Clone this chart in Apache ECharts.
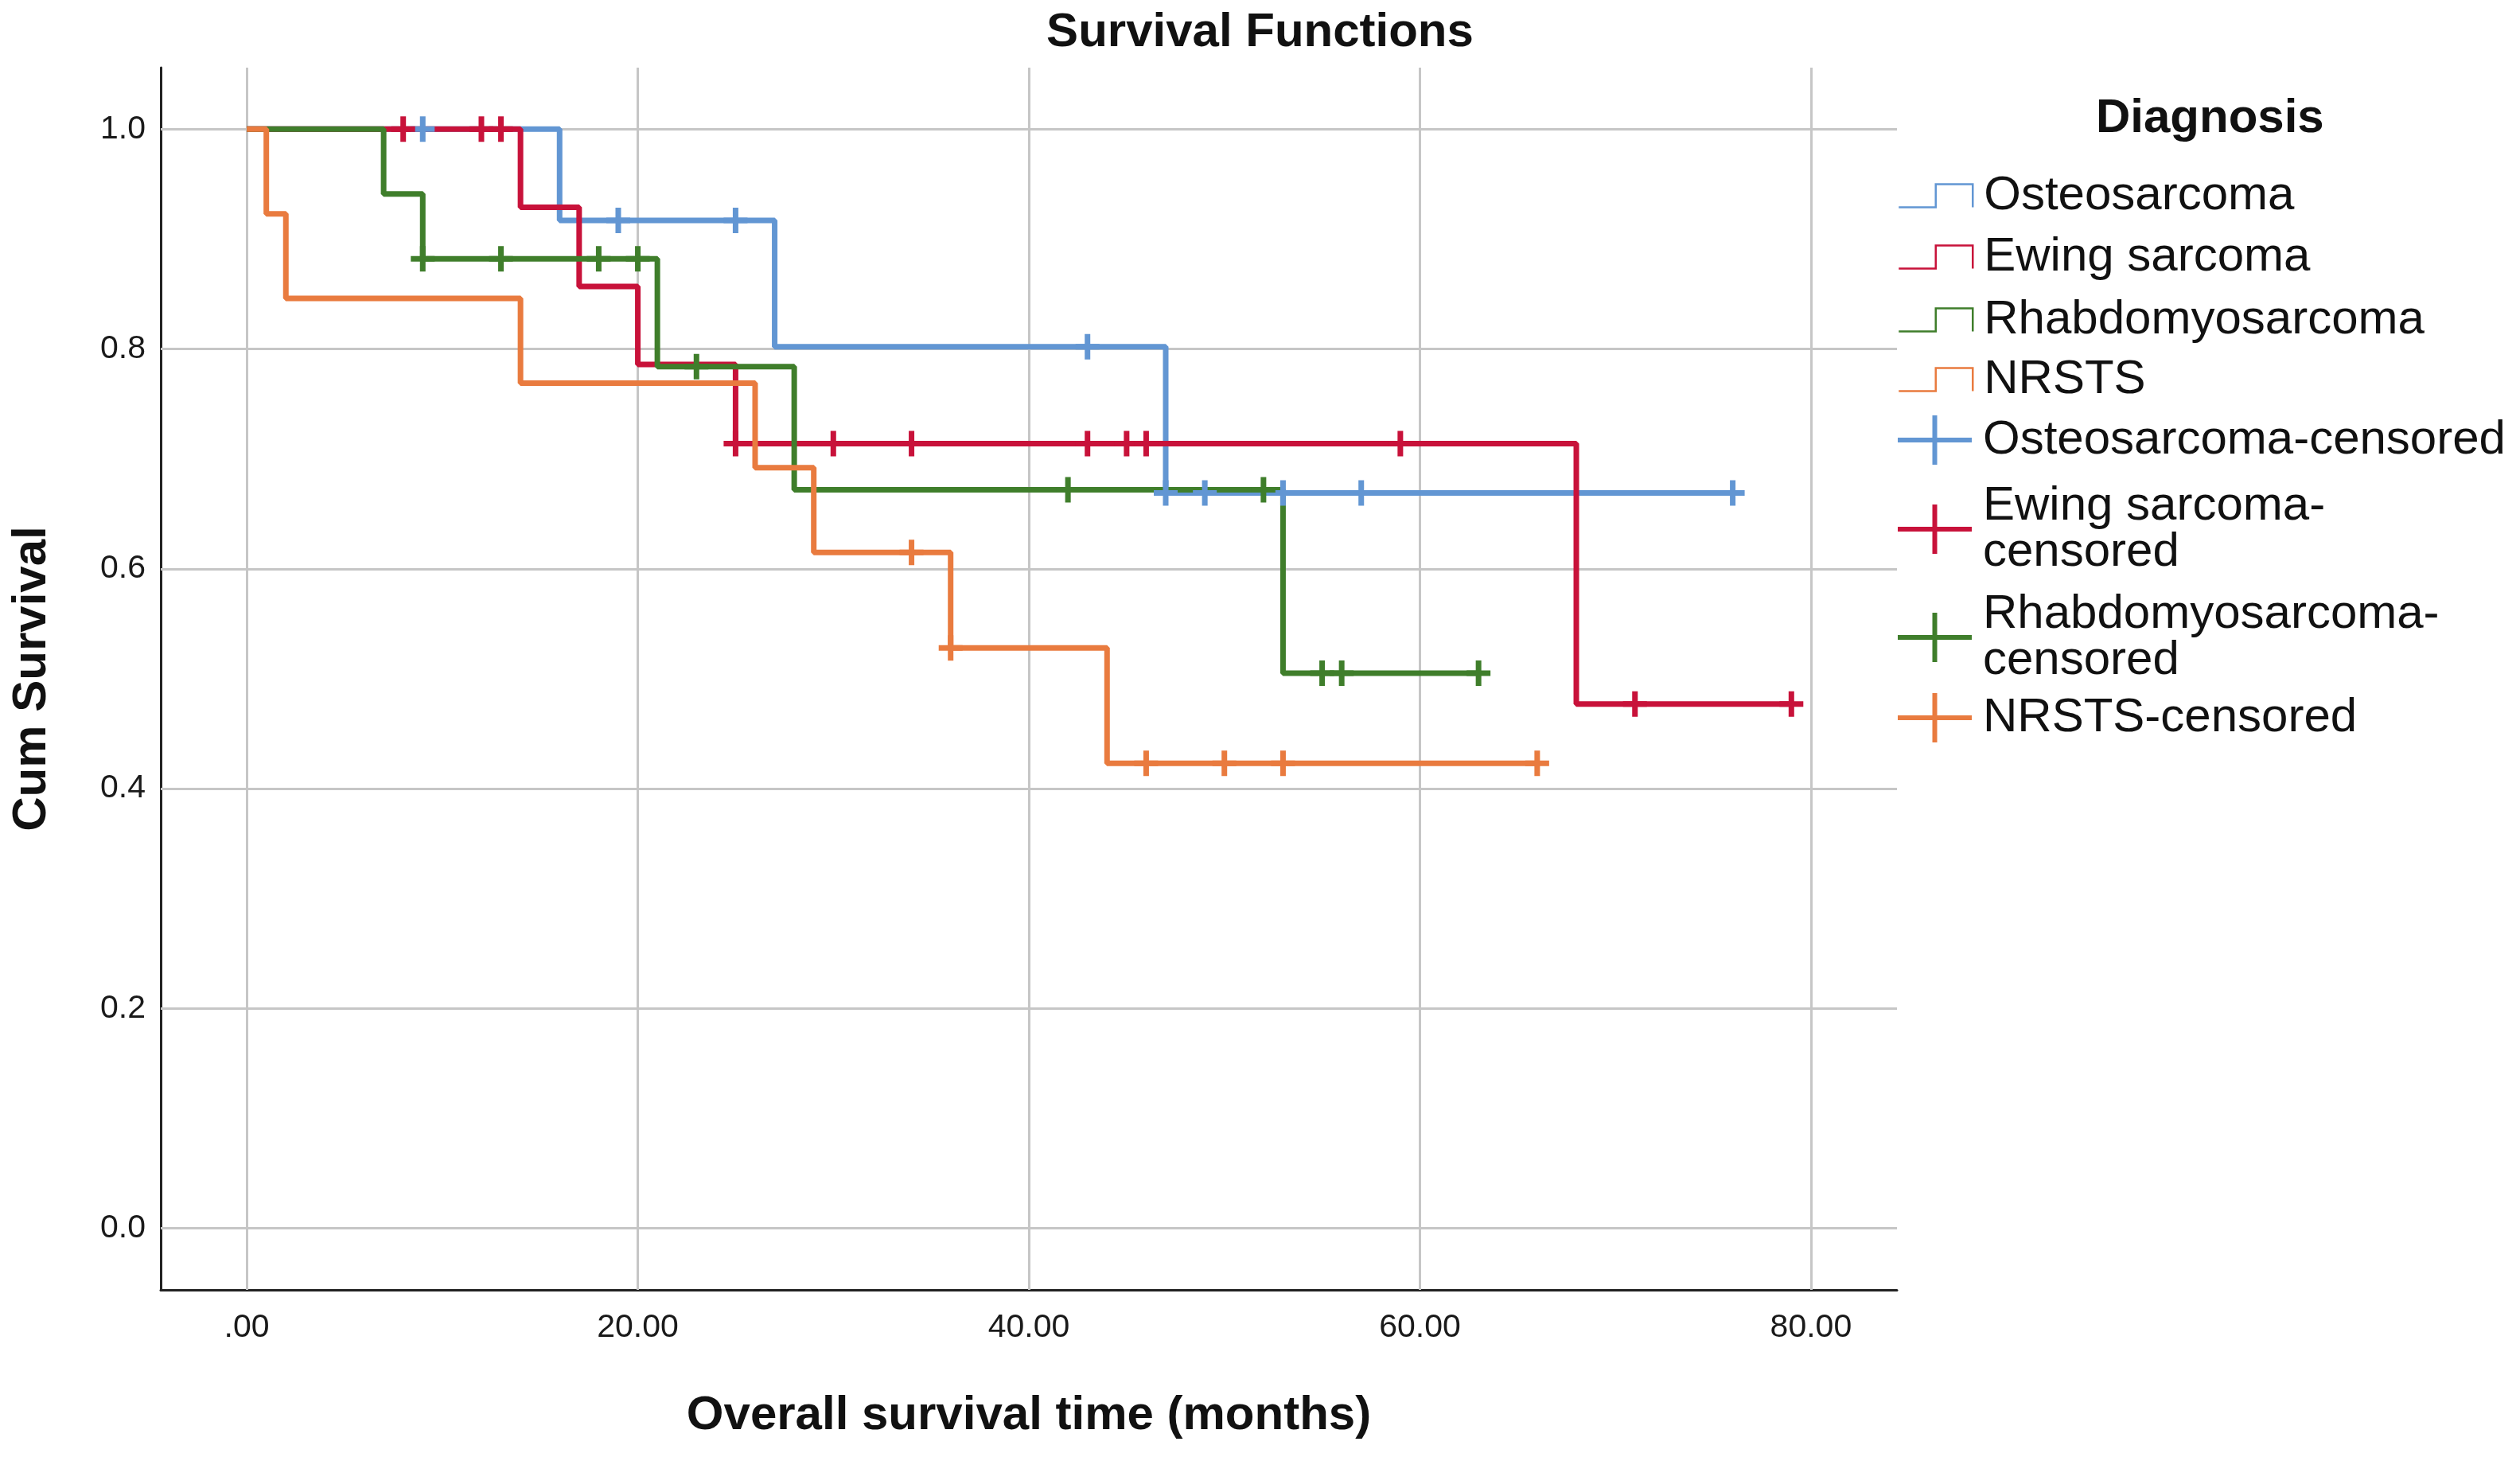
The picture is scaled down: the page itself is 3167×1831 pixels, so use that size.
<!DOCTYPE html>
<html><head><meta charset="utf-8">
<script src="https://cdn.jsdelivr.net/npm/echarts@6/dist/echarts.min.js"></script>
<style>html,body{margin:0;padding:0;background:#fff}#c{width:3167px;height:1831px}</style>
</head><body><div id="c"></div>
<script>
// ---- data ----
const groups = ['Osteosarcoma', 'Ewing sarcoma', 'Rhabdomyosarcoma', 'NRSTS'];
const censoredNames = ['Osteosarcoma-censored', 'Ewing sarcoma-censored', 'Rhabdomyosarcoma-censored', 'NRSTS-censored'];

const osteoTimes = [0, 16, 27, 47, 76];
const osteoSurv  = [1.0, 0.917, 0.802, 0.669, 0.669];
const osteoCensTimes = [9, 19, 25, 43, 47, 49, 53, 57, 76];
const osteoCensSurv  = [1.0, 0.917, 0.917, 0.802, 0.669, 0.669, 0.669, 0.669, 0.669];

const ewingTimes = [0, 14, 17, 20, 25, 68, 79];
const ewingSurv  = [1.0, 0.929, 0.857, 0.786, 0.714, 0.477, 0.477];
const ewingCensTimes = [8, 12, 13, 25, 30, 34, 43, 45, 46, 59, 71, 79];
const ewingCensSurv  = [1.0, 1.0, 1.0, 0.714, 0.714, 0.714, 0.714, 0.714, 0.714, 0.714, 0.477, 0.477];

const rhabdoTimes = [0, 7, 9, 21, 28, 53, 63];
const rhabdoSurv  = [1.0, 0.941, 0.882, 0.784, 0.672, 0.505, 0.505];
const rhabdoCensTimes = [9, 13, 18, 20, 23, 42, 52, 55, 56, 63];
const rhabdoCensSurv  = [0.882, 0.882, 0.882, 0.882, 0.784, 0.672, 0.672, 0.505, 0.505, 0.505];

const nrstsTimes = [0, 1, 2, 14, 26, 29, 36, 44, 66];
const nrstsSurv  = [1.0, 0.923, 0.846, 0.769, 0.692, 0.615, 0.528, 0.423, 0.423];
const nrstsCensTimes = [34, 36, 46, 50, 53, 66];
const nrstsCensSurv  = [0.615, 0.528, 0.423, 0.423, 0.423, 0.423];

const xTickValues = [0, 20, 40, 60, 80];
const xTickLabels = ['.00', '20.00', '40.00', '60.00', '80.00'];
const yTickValues = [0, 0.2, 0.4, 0.6, 0.8, 1.0];
const yTickLabels = ['0.0', '0.2', '0.4', '0.6', '0.8', '1.0'];

// ---- styling ----
const colors = ['#6296D3', '#C8123A', '#3F7E2B', '#E97B3F'];
const FONT = '"Liberation Sans", Arial, Helvetica, sans-serif';
const zip = (a, b) => a.map((v, i) => [v, b[i]]);

const curves = [
  [osteoTimes, osteoSurv], [ewingTimes, ewingSurv], [rhabdoTimes, rhabdoSurv], [nrstsTimes, nrstsSurv]
];
const cens = [
  [osteoCensTimes, osteoCensSurv], [ewingCensTimes, ewingCensSurv], [rhabdoCensTimes, rhabdoCensSurv], [nrstsCensTimes, nrstsCensSurv]
];

const plusSym = 'path://M11.5,0H18.5V12.5H30V19.5H18.5V32H11.5V19.5H0V12.5H11.5Z';
const legendPlus = 'path://M43.5,0H49.5V28H93V34H49.5V62H43.5V34H0V28H43.5Z';
const legendStep = 'path://M0,29H46.5V0H93V29';

const series = [];
series.push({
  type: 'line', data: [], z: 1, silent: true, animation: false,
  markLine: {
    z: 1, silent: true, animation: false, symbol: ['none', 'none'],
    label: { show: false },
    lineStyle: { color: '#c6c6c6', width: 3, type: 'solid' },
    emphasis: { disabled: true },
    data: xTickValues.map(v => ({ xAxis: v })).concat(yTickValues.map(v => ({ yAxis: v })))
  }
});
curves.forEach((c, i) => {
  series.push({
    name: groups[i], type: 'line', step: 'end', data: zip(c[0], c[1]),
    showSymbol: false, symbol: 'none', z: 2, animation: false,
    lineStyle: { color: colors[i], width: 7 }, itemStyle: { color: colors[i] },
    emphasis: { disabled: true }
  });
});
cens.forEach((c, i) => {
  series.push({
    name: censoredNames[i], type: 'scatter', data: zip(c[0], c[1]),
    symbol: plusSym, symbolSize: [30, 32], z: 3, animation: false,
    itemStyle: { color: colors[i], opacity: 1 }, emphasis: { disabled: true }
  });
});

// legends: one per entry for precise placement
const legendCenters = [245, 322, 401, 476, 553, 664, 800, 902];
const legendLabels = {
  'Ewing sarcoma-censored': 'Ewing sarcoma-\ncensored',
  'Rhabdomyosarcoma-censored': 'Rhabdomyosarcoma-\ncensored'
};
const LH = 58;
const legends = [];
groups.concat(censoredNames).forEach((name, i) => {
  const isCens = i >= 4;
  const col = colors[i % 4];
  const lines = (legendLabels[name] || name).split('\n').length;
  const iconH = isCens ? 62 : 29;
  const h = Math.max(iconH, lines * LH);
  legends.push({
    data: [name], orient: 'vertical', left: 2385, top: legendCenters[i] - h / 2,
    padding: 0, itemGap: 0, selectedMode: false,
    itemWidth: 93, itemHeight: iconH,
    icon: isCens ? legendPlus : legendStep,
    itemStyle: isCens ? { color: col, borderWidth: 0 } : { color: 'rgba(0,0,0,0)', borderColor: col, borderWidth: 2.5 },
    lineStyle: { width: 0 },
    formatter: n => legendLabels[n] || n,
    textStyle: { fontFamily: FONT, fontSize: 60, color: '#111', lineHeight: LH, padding: [0, 0, 0, 9] }
  });
});

const chart = echarts.init(document.getElementById('c'), null, { renderer: 'canvas' });
chart.setOption({
  backgroundColor: '#ffffff',
  animation: false,
  title: [
    { text: 'Survival Functions', left: 'center', top: 6,
      textStyle: { fontFamily: FONT, fontSize: 60, fontWeight: 'bold', color: '#111' } },
    { text: 'Diagnosis', left: 2629, top: 114,
      textStyle: { fontFamily: FONT, fontSize: 60, fontWeight: 'bold', color: '#111' } }
  ],
  legend: legends,
  grid: { left: 202, right: 783, top: 85, bottom: 210, containLabel: false },
  xAxis: {
    type: 'value', min: -4.4, max: 84.4,
    name: 'Overall survival time (months)', nameLocation: 'middle', nameGap: 128,
    nameTextStyle: { fontFamily: FONT, fontSize: 60, fontWeight: 'bold', color: '#111' },
    axisLine: { show: true, onZero: false, lineStyle: { color: '#222', width: 3 } },
    axisTick: { show: false, customValues: xTickValues },
    splitLine: { show: false },
    axisLabel: {
      customValues: xTickValues, fontFamily: FONT, fontSize: 41, color: '#1a1a1a', margin: 27,
      formatter: v => xTickLabels[xTickValues.indexOf(v)] ?? ''
    }
  },
  yAxis: {
    type: 'value', min: -0.056, max: 1.056,
    name: 'Cum Survival', nameLocation: 'middle', nameGap: 132,
    nameTextStyle: { fontFamily: FONT, fontSize: 60, fontWeight: 'bold', color: '#111' },
    axisLine: { show: true, onZero: false, lineStyle: { color: '#222', width: 3 } },
    axisTick: { show: false, customValues: yTickValues },
    splitLine: { show: false },
    axisLabel: {
      customValues: yTickValues, fontFamily: FONT, fontSize: 41, color: '#1a1a1a', margin: 19,
      formatter: v => { const k = yTickValues.findIndex(t => Math.abs(t - v) < 1e-9); return k >= 0 ? yTickLabels[k] : ''; }
    }
  },
  series: series
});
</script>
</body></html>
